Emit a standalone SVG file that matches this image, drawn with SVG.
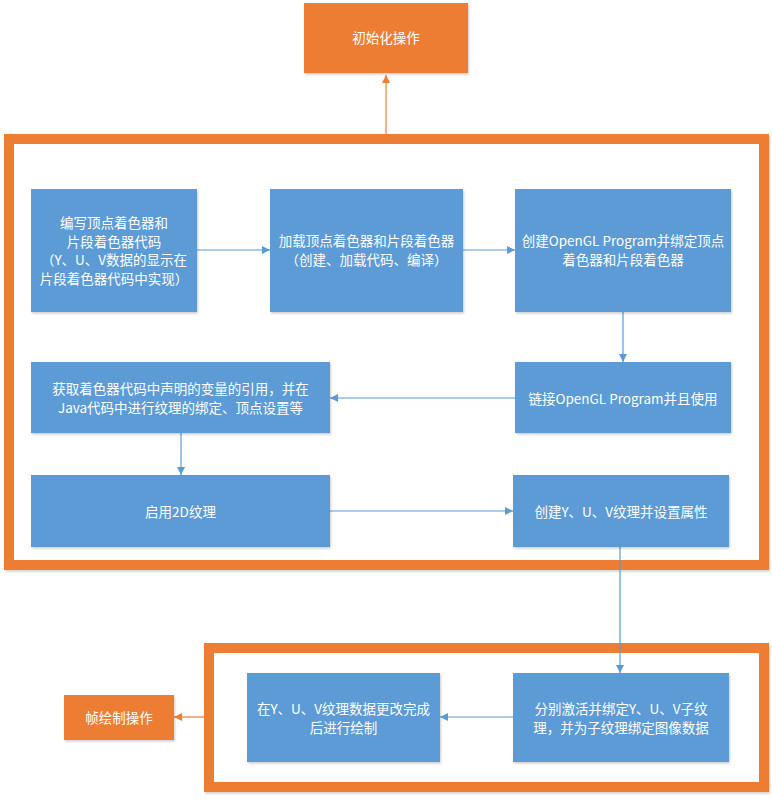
<svg xmlns="http://www.w3.org/2000/svg" width="772" height="800" viewBox="0 0 772 800">
<defs>
<style>
.b{fill:#5B9BD5;}
.o{fill:#ED7D31;}
.fr{fill:#FFFFFF;stroke:#ED7D31;stroke-width:10;}
.t{fill:#FFFFFF;font-family:"Noto Sans CJK SC","Liberation Sans",sans-serif;font-size:13.5px;text-anchor:middle;}
.cb{stroke:#5B9BD5;stroke-width:1.2;fill:none;}
.co{stroke:#ED7D31;stroke-width:1.2;fill:none;}
</style>
<filter id="sh" x="-5%" y="-5%" width="115%" height="115%">
<feDropShadow dx="1" dy="1.5" stdDeviation="1" flood-color="#000" flood-opacity="0.2"/>
</filter>
<marker id="ab" viewBox="0 0 10 10" refX="10" refY="5" markerWidth="8" markerHeight="8" markerUnits="userSpaceOnUse" orient="auto">
<path d="M0,0 L10,5 L0,10 z" fill="#5B9BD5"/>
</marker>
<marker id="ao" viewBox="0 0 10 10" refX="10" refY="5" markerWidth="8" markerHeight="8" markerUnits="userSpaceOnUse" orient="auto">
<path d="M0,0 L10,5 L0,10 z" fill="#ED7D31"/>
</marker>
</defs>
<rect width="772" height="800" fill="#FFFFFF"/>

<g id="frame-init"><rect class="fr" x="9" y="139" width="755" height="426" filter="url(#sh)"/></g>
<g id="frame-draw"><rect class="fr" x="209" y="648" width="555" height="139" filter="url(#sh)"/></g>

<g id="connectors">
<line class="co" x1="386" y1="134" x2="386" y2="75" marker-end="url(#ao)"/>
<line class="cb" x1="197" y1="250" x2="270" y2="250" marker-end="url(#ab)"/>
<line class="cb" x1="463" y1="250" x2="515" y2="250" marker-end="url(#ab)"/>
<line class="cb" x1="623" y1="312" x2="623" y2="362" marker-end="url(#ab)"/>
<line class="cb" x1="515" y1="398" x2="330" y2="398" marker-end="url(#ab)"/>
<line class="cb" x1="181" y1="433" x2="181" y2="475" marker-end="url(#ab)"/>
<line class="cb" x1="330" y1="511" x2="513" y2="511" marker-end="url(#ab)"/>
<line class="cb" x1="620" y1="547" x2="620" y2="673" marker-end="url(#ab)"/>
<line class="cb" x1="513" y1="717" x2="440" y2="717" marker-end="url(#ab)"/>
<line class="co" x1="204" y1="717" x2="174" y2="717" marker-end="url(#ao)"/>
</g>

<g id="n-init"><rect class="o" x="304" y="3" width="164" height="70" filter="url(#sh)"/>
<text class="t" x="386" y="43">初始化操作</text></g>

<g id="n1"><rect class="b" x="31" y="189" width="166" height="123" filter="url(#sh)"/>
<text class="t" x="114" y="228">编写顶点着色器和</text>
<text class="t" x="114" y="246.5">片段着色器代码</text>
<text class="t" x="114" y="265">（Y、U、V数据的显示在</text>
<text class="t" x="114" y="283.5">片段着色器代码中实现）</text></g>

<g id="n2"><rect class="b" x="270" y="189" width="193" height="123" filter="url(#sh)"/>
<text class="t" x="366.5" y="246">加载顶点着色器和片段着色器</text>
<text class="t" x="366.5" y="264.5">（创建、加载代码、编译）</text></g>

<g id="n3"><rect class="b" x="515" y="189" width="216" height="123" filter="url(#sh)"/>
<text class="t" x="623" y="246">创建OpenGL Program并绑定顶点</text>
<text class="t" x="623" y="264.5">着色器和片段着色器</text></g>

<g id="n4"><rect class="b" x="515" y="362" width="216" height="71" filter="url(#sh)"/>
<text class="t" x="623" y="404">链接OpenGL Program并且使用</text></g>

<g id="n5"><rect class="b" x="31" y="362" width="299" height="71" filter="url(#sh)"/>
<text class="t" x="180.5" y="394">获取着色器代码中声明的变量的引用，并在</text>
<text class="t" x="180.5" y="412.5">Java代码中进行纹理的绑定、顶点设置等</text></g>

<g id="n6"><rect class="b" x="31" y="475" width="299" height="72" filter="url(#sh)"/>
<text class="t" x="180.5" y="517">启用2D纹理</text></g>

<g id="n7"><rect class="b" x="513" y="475" width="216" height="72" filter="url(#sh)"/>
<text class="t" x="621" y="517">创建Y、U、V纹理并设置属性</text></g>

<g id="n8"><rect class="b" x="513" y="673" width="216" height="89" filter="url(#sh)"/>
<text class="t" x="621" y="714">分别激活并绑定Y、U、V子纹</text>
<text class="t" x="621" y="732.5">理，并为子纹理绑定图像数据</text></g>

<g id="n9"><rect class="b" x="247" y="673" width="193" height="89" filter="url(#sh)"/>
<text class="t" x="343.5" y="714">在Y、U、V纹理数据更改完成</text>
<text class="t" x="343.5" y="732.5">后进行绘制</text></g>

<g id="n-draw"><rect class="o" x="64" y="695" width="110" height="45" filter="url(#sh)"/>
<text class="t" x="119" y="723">帧绘制操作</text></g>
</svg>
